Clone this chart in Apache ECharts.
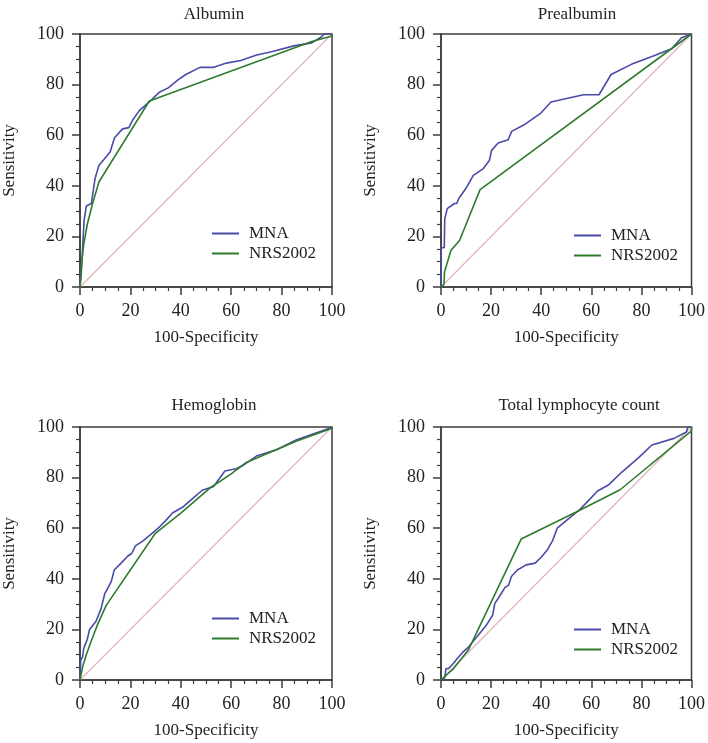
<!DOCTYPE html>
<html>
<head>
<meta charset="utf-8">
<script src="https://cdn.jsdelivr.net/npm/echarts@6/dist/echarts.min.js"></script>
<style>
html,body{margin:0;padding:0;background:#fff;}
#chart{width:708px;height:743px;}
</style>
</head>
<body>
<div id="chart"></div>
<script>
// ---- Data (x = 100-Specificity, y = Sensitivity) ----
const panelTitles = ['Albumin', 'Prealbumin', 'Hemoglobin', 'Total lymphocyte count'];
const seriesNames = ['MNA', 'NRS2002'];
const axisTicks = [0, 20, 40, 60, 80, 100];
const diagonal = [[0, 0], [100, 100]];

const albuminMNA = [[0,0],[0.5,5],[1.6,26],[2.5,32],[4.5,33],[6,43],[7.5,48],[10.8,52],[12,53.5],[13.7,59],[16.9,62.5],[19.4,63],[20.9,66],[23.6,69.8],[28.2,73.8],[31.5,77],[35,78.7],[39,82],[42,84],[47.6,86.8],[52.8,86.8],[58.1,88.5],[63.8,89.5],[70.1,91.7],[76,93],[84.8,95.3],[92,96.5],[96,99],[97,100],[100,100]];
const albuminNRS = [[0,0],[0.5,8],[1.5,17],[2.9,24.8],[5,33],[7.5,41.5],[27.5,73.5],[92,97],[100,99.2],[100,100]];

const prealbuminMNA = [[0,0],[0,15.5],[1.3,15.5],[1.5,27],[2.5,31],[5.4,33],[6.3,33],[7.1,35],[9.9,38.9],[12.9,44.1],[16.9,46.8],[19.3,50],[20.2,54],[22.8,56.9],[26.8,58.2],[28.2,61.5],[33,64],[39.6,68.5],[43.9,73.1],[56.9,76],[63.1,76],[67.9,84],[76,88],[85,91.4],[92.1,94.2],[96,98.5],[100,100]];
const prealbuminNRS = [[0,0],[1.2,1],[1.4,6],[4,14.5],[7.4,18.4],[15.6,38.5],[100,100]];

const hemoglobinMNA = [[0,0],[0.3,7.9],[1,9],[1.5,12.5],[2.9,16.1],[3.8,20],[6.3,23.1],[8.3,28],[9.8,34],[12.4,38.9],[13.6,43.5],[16.5,46.4],[19,49],[20.5,50],[22,53],[25,55],[28,57.5],[31,60],[34,63],[36.7,66],[41,68.5],[45,72],[48.5,75],[53,76.5],[57.5,82.6],[62,83.5],[65,85],[70,88.5],[78,91],[86,95],[99,99.5],[100,100]];
const hemoglobinNRS = [[0,0],[1,5],[2.5,10],[4.5,15.5],[7,22],[10.4,29.5],[29.9,58],[40,66],[52,76.2],[60,81.5],[66,86],[72,88.5],[86,94.5],[100,99.5],[100,100]];

const lymphocyteMNA = [[0,0],[1.5,1],[2,4.5],[3,4.5],[5,6.6],[6.5,8.5],[8.6,10.9],[11,13],[13,15.5],[15.5,18.5],[18,21.5],[20.6,25.6],[21.5,30.3],[23,32.5],[25.5,36.5],[27,37.5],[28.1,40.9],[30.5,43.5],[34,45.5],[37.6,46.2],[40,48.5],[42.5,51.5],[44.5,55],[46.4,60],[50,63],[55,67],[58,70],[62.5,74.7],[67,77.2],[72,82],[79,88],[84.2,92.9],[93,95.5],[98,98],[98.5,100],[100,100]];
const lymphocyteNRS = [[0,0],[5,4.5],[11,12],[32,55.7],[54,66.4],[71.5,75.2],[100,98.5],[100,100]];

const panelData = [
  [albuminMNA, albuminNRS],
  [prealbuminMNA, prealbuminNRS],
  [hemoglobinMNA, hemoglobinNRS],
  [lymphocyteMNA, lymphocyteNRS]
];

// ---- Layout / style ----
const FONT = '"Liberation Serif", "Times New Roman", serif';
const COLORS = ['#4a4aa8', '#2e7b2e'];
const DIAG = '#deb2b8';
const AXIS = '#3c3c3c';
const grids = [
  {left: 79, top: 34}, {left: 441, top: 34},
  {left: 79, top: 427}, {left: 441, top: 427}
];
const titleCenters = [[209, 1], [572, 1], [209, 392], [574, 392]];
const legendPos = [[207, 220], [569, 222], [207, 605], [569, 616]];

const option = {
  backgroundColor: '#fff',
  animation: false,
  title: panelTitles.map((t, i) => ({
    text: t, left: titleCenters[i][0], top: titleCenters[i][1], textAlign: 'center',
    textStyle: {fontFamily: FONT, fontSize: 17, fontWeight: 'normal', color: '#222'}
  })),
  legend: legendPos.map(p => ({
    orient: 'vertical', left: p[0], top: p[1], data: seriesNames,
    icon: 'rect', itemWidth: 27, itemHeight: 2, itemGap: 3,
    textStyle: {fontFamily: FONT, fontSize: 17, color: '#222', padding: [0, 0, 0, 5]}
  })),
  grid: grids.map(g => ({
    left: g.left, top: g.top, width: 253, height: 253,
    show: true, borderColor: AXIS, borderWidth: 1.5, backgroundColor: 'transparent'
  })),
  xAxis: grids.map((g, i) => ({
    type: 'value', gridIndex: i, min: 0, max: 100, interval: 20,
    name: '100-Specificity', nameLocation: 'middle', nameGap: 42,
    nameTextStyle: {fontFamily: FONT, fontSize: 17, color: '#222'},
    axisLine: {show: true, onZero: false, lineStyle: {color: AXIS, width: 1.5}},
    axisTick: {show: true, length: 8, lineStyle: {color: AXIS, width: 1.5}},
    minorTick: {show: true, splitNumber: 4, length: 4, lineStyle: {color: AXIS, width: 1.2}},
    axisLabel: {margin: 15, fontFamily: FONT, fontSize: 18, color: '#222',
      formatter: v => axisTicks.includes(v) ? String(v) : ''},
    splitLine: {show: false}
  })),
  yAxis: grids.map((g, i) => ({
    type: 'value', gridIndex: i, min: 0, max: 100, interval: 20,
    name: 'Sensitivity', nameLocation: 'middle', nameGap: 62,
    nameTextStyle: {fontFamily: FONT, fontSize: 17, color: '#222'},
    axisLine: {show: true, onZero: false, lineStyle: {color: AXIS, width: 1.5}},
    axisTick: {show: true, length: 8, lineStyle: {color: AXIS, width: 1.5}},
    minorTick: {show: true, splitNumber: 4, length: 4, lineStyle: {color: AXIS, width: 1.2}},
    axisLabel: {margin: 16, fontFamily: FONT, fontSize: 18, color: '#222',
      formatter: v => axisTicks.includes(v) ? String(v) : ''},
    splitLine: {show: false}
  })),
  series: []
};

panelData.forEach((pair, i) => {
  option.series.push({
    type: 'line', xAxisIndex: i, yAxisIndex: i, data: diagonal,
    showSymbol: false, silent: true, lineStyle: {color: DIAG, width: 1.1}, z: 1
  });
  pair.forEach((d, k) => {
    option.series.push({
      name: seriesNames[k], type: 'line', xAxisIndex: i, yAxisIndex: i, data: d,
      showSymbol: false, symbol: 'none', color: COLORS[k],
      lineStyle: {color: COLORS[k], width: 1.6}, z: 2 + k
    });
  });
});

const chart = echarts.init(document.getElementById('chart'), null, {renderer: 'canvas'});
chart.setOption(option);
</script>
</body>
</html>
